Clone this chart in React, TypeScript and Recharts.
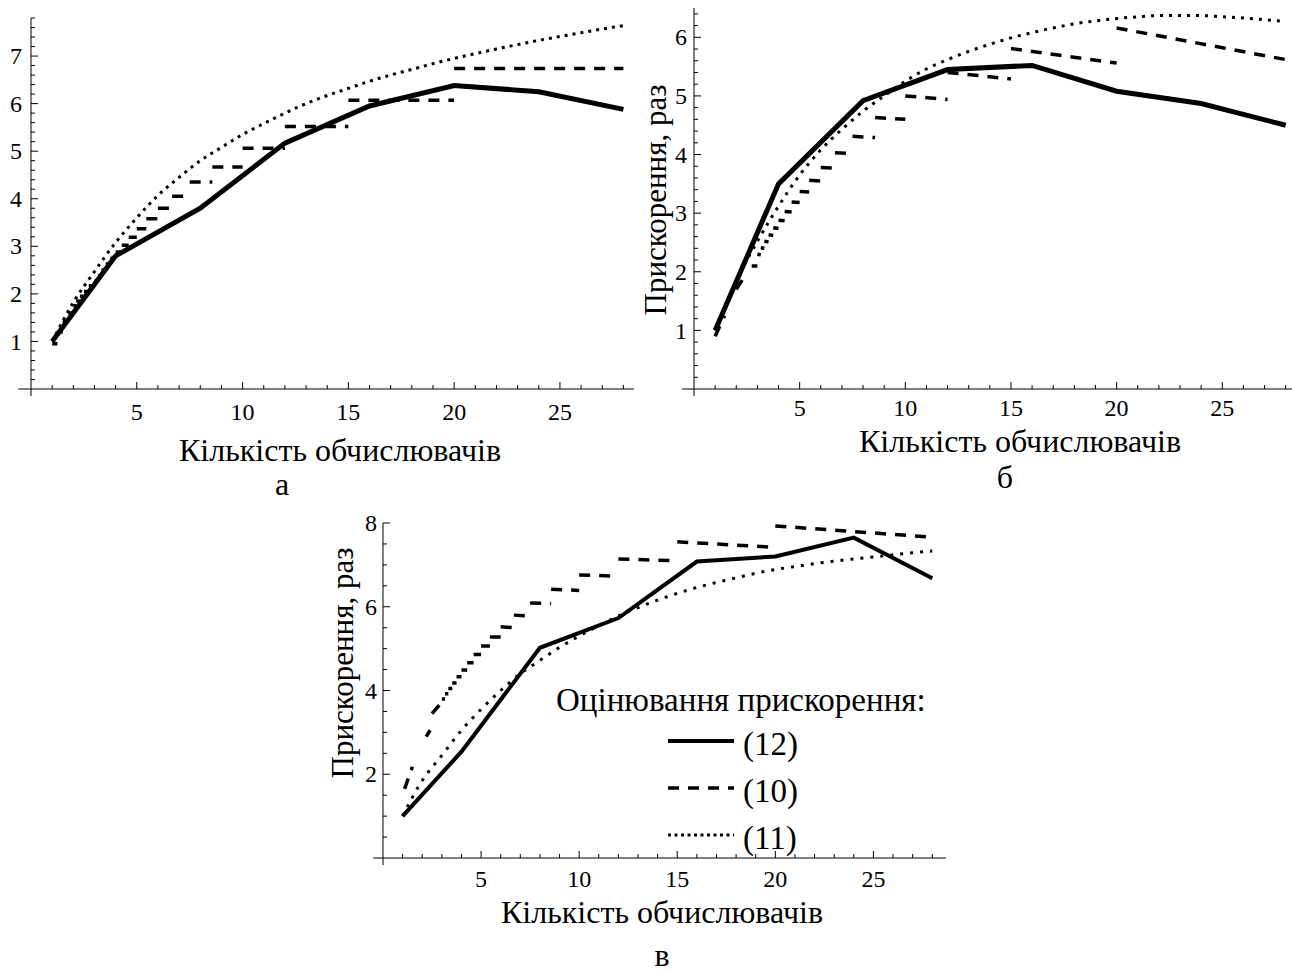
import { LineChart, Line, XAxis, YAxis, Legend, ReferenceLine } from 'recharts';

const FONT = '"Liberation Serif", "Times New Roman", serif';

// number of processors where estimate (12) was measured
const nodes = [1, 4, 8, 12, 16, 20, 24, 28];
const solidA = [1.0, 2.8, 3.8, 5.17, 5.95, 6.38, 6.25, 5.88];
const solidB = [1.0, 3.5, 4.92, 5.45, 5.52, 5.08, 4.87, 4.5];
const solidC = [1.0, 2.54, 5.02, 5.73, 7.08, 7.2, 7.65, 6.68];

// estimate (11), one value per processor count
const procs = [1, 2, 3, 4, 5, 6, 7, 8, 9, 10, 11, 12, 13, 14, 15, 16, 17, 18, 19, 20, 21, 22, 23, 24, 25, 26, 27, 28];
const dottedA = [1.0, 1.82, 2.47, 3.08, 3.6, 4.07, 4.45, 4.8, 5.08, 5.35, 5.58, 5.8, 6.0, 6.17, 6.32, 6.47, 6.6, 6.72, 6.84, 6.95, 7.05, 7.15, 7.24, 7.33, 7.41, 7.49, 7.57, 7.64];
const dottedB = [1.0, 1.85, 2.52, 3.12, 3.65, 4.08, 4.43, 4.74, 5.0, 5.25, 5.46, 5.62, 5.76, 5.88, 5.99, 6.08, 6.16, 6.23, 6.28, 6.32, 6.35, 6.37, 6.37, 6.37, 6.35, 6.33, 6.3, 6.27];
const dottedC = [1.0, 1.85, 2.45, 3.05, 3.55, 4.0, 4.4, 4.72, 5.03, 5.3, 5.55, 5.78, 5.98, 6.16, 6.32, 6.46, 6.58, 6.69, 6.8, 6.89, 6.96, 7.03, 7.09, 7.14, 7.19, 7.24, 7.29, 7.33];

// estimate (10) is piecewise: [n from, n to, value at start, value at end]
const dashA = [
  [1, 1.25, 0.95, 0.95], [1.25, 1.5, 1.2, 1.2], [1.5, 1.76, 1.42, 1.42], [1.76, 2, 1.6, 1.6],
  [2, 2.14, 1.75, 1.75], [2.14, 2.31, 1.85, 1.85], [2.31, 2.5, 1.95, 1.95], [2.5, 2.73, 2.05, 2.05],
  [2.73, 3, 2.17, 2.17], [3, 3.16, 2.27, 2.27], [3.16, 3.33, 2.38, 2.38], [3.33, 3.53, 2.5, 2.5],
  [3.53, 3.75, 2.63, 2.63], [3.75, 4, 2.75, 2.75], [4, 4.29, 2.88, 2.88], [4.29, 4.62, 3.02, 3.02],
  [4.62, 5, 3.19, 3.19], [5, 5.45, 3.37, 3.37], [5.45, 6, 3.58, 3.58], [6, 6.67, 3.8, 3.8],
  [6.67, 7.5, 4.05, 4.05], [7.5, 8.57, 4.35, 4.35], [8.57, 10, 4.67, 4.67], [10, 12, 5.06, 5.06],
  [12, 15, 5.52, 5.52], [15, 20, 6.07, 6.07], [20, 28, 6.74, 6.74],
];
const dashB = [
  [1, 1.45, 0.9, 1.25], [2, 2.3, 1.7, 1.87], [2.73, 3, 2.1, 2.1], [3, 3.16, 2.3, 2.29],
  [3.16, 3.33, 2.41, 2.4], [3.33, 3.53, 2.52, 2.51], [3.53, 3.75, 2.63, 2.62], [3.75, 4, 2.75, 2.74],
  [4, 4.29, 2.88, 2.87], [4.29, 4.62, 3.03, 3.02], [4.62, 5, 3.19, 3.18], [5, 5.45, 3.37, 3.36],
  [5.45, 6, 3.56, 3.55], [6, 6.67, 3.78, 3.77], [6.67, 7.5, 4.03, 4.02], [7.5, 8.57, 4.31, 4.29],
  [8.57, 10, 4.63, 4.6], [10, 12, 5.0, 4.94], [12, 15, 5.4, 5.29], [15, 20, 5.81, 5.56],
  [20, 28, 6.16, 5.62],
];
const dashC = [
  [1.1, 1.5, 1.65, 2.18], [2.2, 2.4, 2.9, 3.05], [2.5, 3, 3.45, 3.72], [3, 3.16, 3.8, 3.8],
  [3.16, 3.33, 3.92, 3.92], [3.33, 3.53, 4.05, 4.05], [3.53, 3.75, 4.18, 4.18], [3.75, 4, 4.33, 4.33],
  [4, 4.29, 4.49, 4.49], [4.29, 4.62, 4.66, 4.66], [4.62, 5, 4.86, 4.86], [5, 5.45, 5.06, 5.06],
  [5.45, 6, 5.28, 5.28], [6, 6.67, 5.52, 5.5], [6.67, 7.5, 5.8, 5.78], [7.5, 8.57, 6.09, 6.08],
  [8.57, 10, 6.42, 6.39], [10, 12, 6.76, 6.73], [12, 15, 7.14, 7.1], [15, 20, 7.55, 7.42],
  [20, 28, 7.93, 7.66],
];

const xTicks = procs;
const xLabels = [5, 10, 15, 20, 25];
const yLabelsAB = [1, 2, 3, 4, 5, 6, 7];
const yLabelsC = [2, 4, 6, 8];

const legendItems = [
  { label: '(12)', dash: undefined, width: 4 },
  { label: '(10)', dash: '11 9', width: 3.5 },
  { label: '(11)', dash: '3 3.5', width: 3 },
];

const steps = (step: number, max: number) => {
  const out: number[] = [];
  for (let v = step; v <= max + 1e-9; v += step) out.push(Math.round(v * 10) / 10);
  return out;
};

const pairs = (xs: number[], ys: number[]) => xs.map((x, i) => ({ x, y: ys[i] }));
const pieces = (segs: number[][]) =>
  segs.flatMap(([x0, x1, y0, y1]) => [{ x: x0, y: y0 }, { x: x1, y: y1 }, { x: x1, y: null }]);

function XTick(props: any) {
  const { x, y, payload, gap, size } = props;
  const v = payload.value;
  const major = xLabels.includes(v);
  return (
    <g>
      <line x1={x} x2={x} y1={y} y2={y - (major ? 7 : 4)} stroke="#000" strokeWidth={1} />
      {major && (
        <text x={x} y={y + gap} textAnchor="middle" fontFamily={FONT} fontSize={size} fill="#000">
          {v}
        </text>
      )}
    </g>
  );
}

function YTick(props: any) {
  const { x, y, payload, gap, size, labels } = props;
  const v = payload.value;
  const major = labels.includes(v);
  return (
    <g>
      <line x1={x} x2={x + (major ? 7 : 4)} y1={y} y2={y} stroke="#000" strokeWidth={1} />
      {major && (
        <text x={x - gap} y={y + size * 0.34} textAnchor="end" fontFamily={FONT} fontSize={size} fill="#000">
          {v}
        </text>
      )}
    </g>
  );
}

function Panel(props: any) {
  const { left, top, width, height, margin, yWidth, xMax, yMax, yStep, yLabels, solid, dotted, dash, lw, dotDash, xGap, yGap, size, stubX, stubY, children } = props;
  return (
    <div style={{ position: 'absolute', left, top }}>
      <LineChart width={width} height={height} margin={margin}>
        <XAxis
          dataKey="x"
          type="number"
          domain={[0, xMax]}
          ticks={xTicks}
          interval={0}
          height={30}
          tickSize={0}
          tickMargin={0}
          tickLine={false}
          axisLine={{ stroke: '#000', strokeWidth: 1 }}
          tick={(p: any) => <XTick {...p} gap={xGap} size={size} />}
          allowDataOverflow
        />
        <YAxis
          type="number"
          domain={[0, yMax]}
          ticks={steps(yStep, yMax)}
          interval={0}
          width={yWidth}
          tickSize={0}
          tickMargin={0}
          tickLine={false}
          axisLine={{ stroke: '#000', strokeWidth: 1 }}
          tick={(p: any) => <YTick {...p} gap={yGap} size={size} labels={yLabels} />}
          allowDataOverflow
        />
        <ReferenceLine segment={[{ x: -stubX, y: 0 }, { x: 0, y: 0 }]} stroke="#000" ifOverflow="visible" />
        <ReferenceLine segment={[{ x: 0, y: -stubY }, { x: 0, y: 0 }]} stroke="#000" ifOverflow="visible" />
        <Line
          data={pairs(procs, dotted)}
          dataKey="y"
          name="(11)"
          type="monotone"
          stroke="#000"
          strokeWidth={3}
          strokeDasharray={dotDash}
          dot={false}
          activeDot={false}
          isAnimationActive={false}
        />
        <Line
          data={pieces(dash)}
          dataKey="y"
          name="(10)"
          type="linear"
          stroke="#000"
          strokeWidth={3.5}
          strokeDasharray="11 9"
          connectNulls={false}
          dot={false}
          activeDot={false}
          isAnimationActive={false}
        />
        <Line
          data={pairs(nodes, solid)}
          dataKey="y"
          name="(12)"
          type="linear"
          stroke="#000"
          strokeWidth={lw}
          strokeLinejoin="miter"
          dot={false}
          activeDot={false}
          isAnimationActive={false}
        />
        {children}
      </LineChart>
    </div>
  );
}

const textStyle = (x: number, y: number, size: number, rotate = 0): any => ({
  position: 'absolute',
  left: x,
  top: y,
  transform: `translate(-50%, -50%) rotate(${rotate}deg)`,
  fontFamily: FONT,
  fontSize: size,
  whiteSpace: 'nowrap',
  color: '#000',
  lineHeight: 0.75,
});

const renderLegend = () => (
  <div style={{ fontFamily: FONT, fontSize: 33, color: '#000', lineHeight: '40px', whiteSpace: 'nowrap' }}>
    <div>Оцінювання прискорення:</div>
    {legendItems.map((item) => (
      <div key={item.label} style={{ display: 'flex', alignItems: 'center', height: 47, paddingLeft: 112 }}>
        <svg width={66} height={10} style={{ marginTop: -6 }}>
          <line x1={0} x2={66} y1={5} y2={5} stroke="#000" strokeWidth={item.width} strokeDasharray={item.dash} />
        </svg>
        <span style={{ marginLeft: 9 }}>{item.label}</span>
      </div>
    ))}
  </div>
);

export default function App() {
  return (
    <div style={{ position: 'absolute', left: 0, top: 0, width: 1292, height: 973, overflow: 'hidden', background: '#fff' }}>
      <Panel
        left={0}
        top={0}
        width={660}
        height={430}
        margin={{ top: 18, right: 26, bottom: 11, left: 0 }}
        yWidth={31}
        xMax={28.5}
        yMax={7.8}
        yStep={0.2}
        yLabels={yLabelsAB}
        solid={solidA}
        dotted={dottedA}
        dash={dashA}
        lw={5}
        dotDash="3 5"
        xGap={31}
        yGap={9}
        size={24}
        stubX={0.6}
        stubY={0.15}
      />
      <Panel
        left={640}
        top={0}
        width={652}
        height={430}
        margin={{ top: 8, right: 0, bottom: 11, left: 0 }}
        yWidth={54}
        xMax={28.3}
        yMax={6.5}
        yStep={0.2}
        yLabels={yLabelsAB}
        solid={solidB}
        dotted={dottedB}
        dash={dashB}
        lw={5}
        dotDash="3 6"
        xGap={27}
        yGap={7}
        size={24}
        stubX={0.57}
        stubY={0.12}
      />
      <Panel
        left={330}
        top={480}
        width={640}
        height={413}
        margin={{ top: 43, right: 24, bottom: 5, left: 0 }}
        yWidth={53}
        xMax={28.7}
        yMax={8}
        yStep={0.5}
        yLabels={yLabelsC}
        solid={solidC}
        dotted={dottedC}
        dash={dashC}
        lw={4}
        dotDash="3 7"
        xGap={29}
        yGap={6}
        size={24}
        stubX={0.5}
        stubY={0.17}
      >
        <Legend
          verticalAlign="middle"
          align="center"
          layout="horizontal"
          wrapperStyle={{ left: 226, top: 200, width: 420, height: 190 }}
          content={renderLegend}
        />
      </Panel>

      <div style={textStyle(340, 450, 32)}>Кількість обчислювачів</div>
      <div style={textStyle(282, 484, 32)}>а</div>
      <div style={textStyle(656, 200, 31, -90)}>Прискорення, раз</div>
      <div style={textStyle(1020, 441, 32)}>Кількість обчислювачів</div>
      <div style={textStyle(1005, 477, 32)}>б</div>
      <div style={textStyle(343, 663, 31, -90)}>Прискорення, раз</div>
      <div style={textStyle(662, 912, 32)}>Кількість обчислювачів</div>
      <div style={textStyle(662, 955, 32)}>в</div>
    </div>
  );
}
